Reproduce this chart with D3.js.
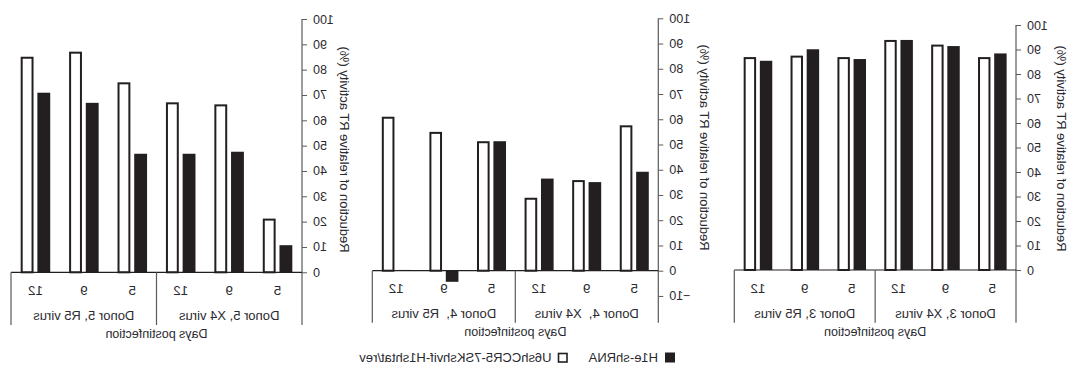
<!DOCTYPE html>
<html><head><meta charset="utf-8">
<script src="https://cdn.jsdelivr.net/npm/d3@7"></script>
<style>
html,body{margin:0;padding:0;background:#fff;}
svg text{font-family:"Liberation Sans",Arial,Helvetica,sans-serif;fill:#2a2a30;}
</style></head>
<body>
<svg id="chart" width="1070" height="367"></svg>
<script>
// ---- data ----
const categories = ["5", "9", "12", "5", "9", "12"];
const virusGroups = ["X4 virus", "R5 virus"];
const donors = ["Donor 3", "Donor 4", "Donor 5"];
const seriesNames = ["H1e-shRNA", "U6shCCR5-7SKshvif-H1shtat/rev"];
const yAxisTitle = "Reduction of relative RT activity (%)";
const xAxisTitle = "Days postinfection";
const yTicksDonor3 = [0, 10, 20, 30, 40, 50, 60, 70, 80, 90, 100];
const yTicksDonor4 = [-10, 0, 10, 20, 30, 40, 50, 60, 70, 80, 90, 100];
const yTicksDonor5 = [0, 10, 20, 30, 40, 50, 60, 70, 80, 90, 100];
// black = H1e-shRNA, white = U6shCCR5-7SKshvif-H1shtat/rev
const blackDonor3 = [88.4, 91.4, 93.9, 86.1, 90.1, 85.4];
const whiteDonor3 = [86.9, 92.0, 93.9, 86.9, 87.5, 86.9];
const blackDonor4 = [39.2, 35.1, 36.5, 51.3, -4.4, 0.3];
const whiteDonor4 = [57.6, 35.9, 28.9, 51.3, 55.0, 61.0];
const blackDonor5 = [10.7, 47.6, 46.8, 46.8, 66.9, 70.9];
const whiteDonor5 = [21.2, 66.3, 67.1, 75.0, 87.1, 85.1];

// ---- layout ----
const layout = [
  {left: 54,    right: 335.7, y0: 270,   y100: 25,   bottom: 322.7, catY: 288.3, grpY: 313.3, ttlY: 331.7, labX: 8,   labY: 148.5, doubleSpace: false},
  {left: 411.7, right: 697.7, y0: 270.7, y100: 18.3, bottom: 322.7, catY: 288.3, grpY: 313.3, ttlY: 331.7, labX: 365, labY: 147.5, doubleSpace: true},
  {left: 768,   right: 1059,  y0: 272.3, y100: 19,   bottom: 325,   catY: 290.5, grpY: 315,   ttlY: 333.3, labX: 725, labY: 149.5, doubleSpace: false}
];
const panelData = [
  {donor: donors[0], ticks: yTicksDonor3, black: blackDonor3, white: whiteDonor3},
  {donor: donors[1], ticks: yTicksDonor4, black: blackDonor4, white: whiteDonor4},
  {donor: donors[2], ticks: yTicksDonor5, black: blackDonor5, white: whiteDonor5}
];

const svg = d3.select("#chart");
// the reference is a horizontally mirrored figure
const root = svg.append("g").attr("transform", "translate(1070,0) scale(-1,1)");
const axisColor = "#5a5a5a";

panelData.forEach((pd, i) => {
  const L = layout[i];
  const g = root.append("g");
  const y = d3.scaleLinear().domain([0, 100]).range([L.y0, L.y100]);
  const idx = d3.range(categories.length);
  const x0 = d3.scaleBand().domain(idx).range([L.left, L.right]).paddingInner(0.39).paddingOuter(0.2);
  const x1 = d3.scaleBand().domain(["black", "white"]).range([0, x0.bandwidth()]).paddingInner(0.23);

  // bars
  idx.forEach(k => {
    const bx = x0(k);
    const vb = pd.black[k];
    g.append("rect")
      .attr("x", bx + x1("black"))
      .attr("width", x1.bandwidth())
      .attr("y", Math.min(y(vb), y(0)))
      .attr("height", Math.max(0.8, Math.abs(y(vb) - y(0))))
      .attr("fill", "#231f20");
    const vw = pd.white[k];
    g.append("rect")
      .attr("x", bx + x1("white") + 1)
      .attr("width", x1.bandwidth() - 2)
      .attr("y", y(vw) + 1)
      .attr("height", y(0) - y(vw) - 1)
      .attr("fill", "#fff")
      .attr("stroke", "#231f20")
      .attr("stroke-width", 2);
  });

  // y axis
  const yAxis = d3.axisLeft(y).tickValues(pd.ticks).tickSize(5).tickPadding(6)
    .tickFormat(d => d < 0 ? "\u2212" + Math.abs(d) : d);
  const ag = g.append("g").attr("transform", `translate(${L.left},0)`).call(yAxis);
  ag.select(".domain").remove();
  ag.selectAll(".tick line").attr("stroke", axisColor);
  ag.selectAll(".tick text").attr("font-size", 12.5).style("fill", "#2a2a30")
    .attr("font-family", "Liberation Sans, Arial, sans-serif");
  // axis line running down through bracket
  g.append("line").attr("x1", L.left).attr("x2", L.left)
    .attr("y1", y(100)).attr("y2", L.bottom).attr("stroke", axisColor).attr("stroke-width", 1.2);
  // baseline
  g.append("line").attr("x1", L.left).attr("x2", L.right)
    .attr("y1", y(0)).attr("y2", y(0)).attr("stroke", "#231f20").attr("stroke-width", 1.2);
  // group brackets
  const mid = (x0(2) + x0.bandwidth() + x0(3)) / 2;
  [mid, L.right].forEach(xv => {
    g.append("line").attr("x1", xv).attr("x2", xv)
      .attr("y1", y(0)).attr("y2", L.bottom).attr("stroke", axisColor).attr("stroke-width", 1.2);
  });

  // category labels
  idx.forEach(k => {
    g.append("text").attr("x", x0(k) + x0.bandwidth() / 2).attr("y", L.catY)
      .attr("dy", "0.35em").attr("text-anchor", "middle").attr("font-size", 13.5)
      .text(categories[k]);
  });
  // group labels
  const sep = L.doubleSpace ? ",\u00a0 " : ", ";
  g.append("text").attr("x", (L.left + mid) / 2).attr("y", L.grpY).attr("dy", "0.35em")
    .attr("text-anchor", "middle").attr("font-size", 13).text(pd.donor + sep + virusGroups[0]);
  g.append("text").attr("x", (mid + L.right) / 2).attr("y", L.grpY).attr("dy", "0.35em")
    .attr("text-anchor", "middle").attr("font-size", 13).text(pd.donor + sep + virusGroups[1]);
  // x title
  g.append("text").attr("x", (L.left + L.right) / 2).attr("y", L.ttlY).attr("dy", "0.35em")
    .attr("text-anchor", "middle").attr("font-size", 12.5).text(xAxisTitle);
  // y title
  g.append("text").attr("transform", `translate(${L.labX},${L.labY}) rotate(-90)`)
    .attr("dy", "0.35em").attr("text-anchor", "middle").attr("font-size", 13).text(yAxisTitle);
});

// legend
const lg = root.append("g");
lg.append("rect").attr("x", 395).attr("y", 352.5).attr("width", 10).attr("height", 10).attr("fill", "#231f20");
lg.append("text").attr("x", 412).attr("y", 357.5).attr("dy", "0.35em").attr("font-size", 13).text(seriesNames[0]);
lg.append("rect").attr("x", 503).attr("y", 353.5).attr("width", 8.5).attr("height", 8.5)
  .attr("fill", "#fff").attr("stroke", "#231f20").attr("stroke-width", 1.6);
lg.append("text").attr("x", 518.5).attr("y", 357.5).attr("dy", "0.35em").attr("font-size", 13).text(seriesNames[1]);
</script>
</body></html>
